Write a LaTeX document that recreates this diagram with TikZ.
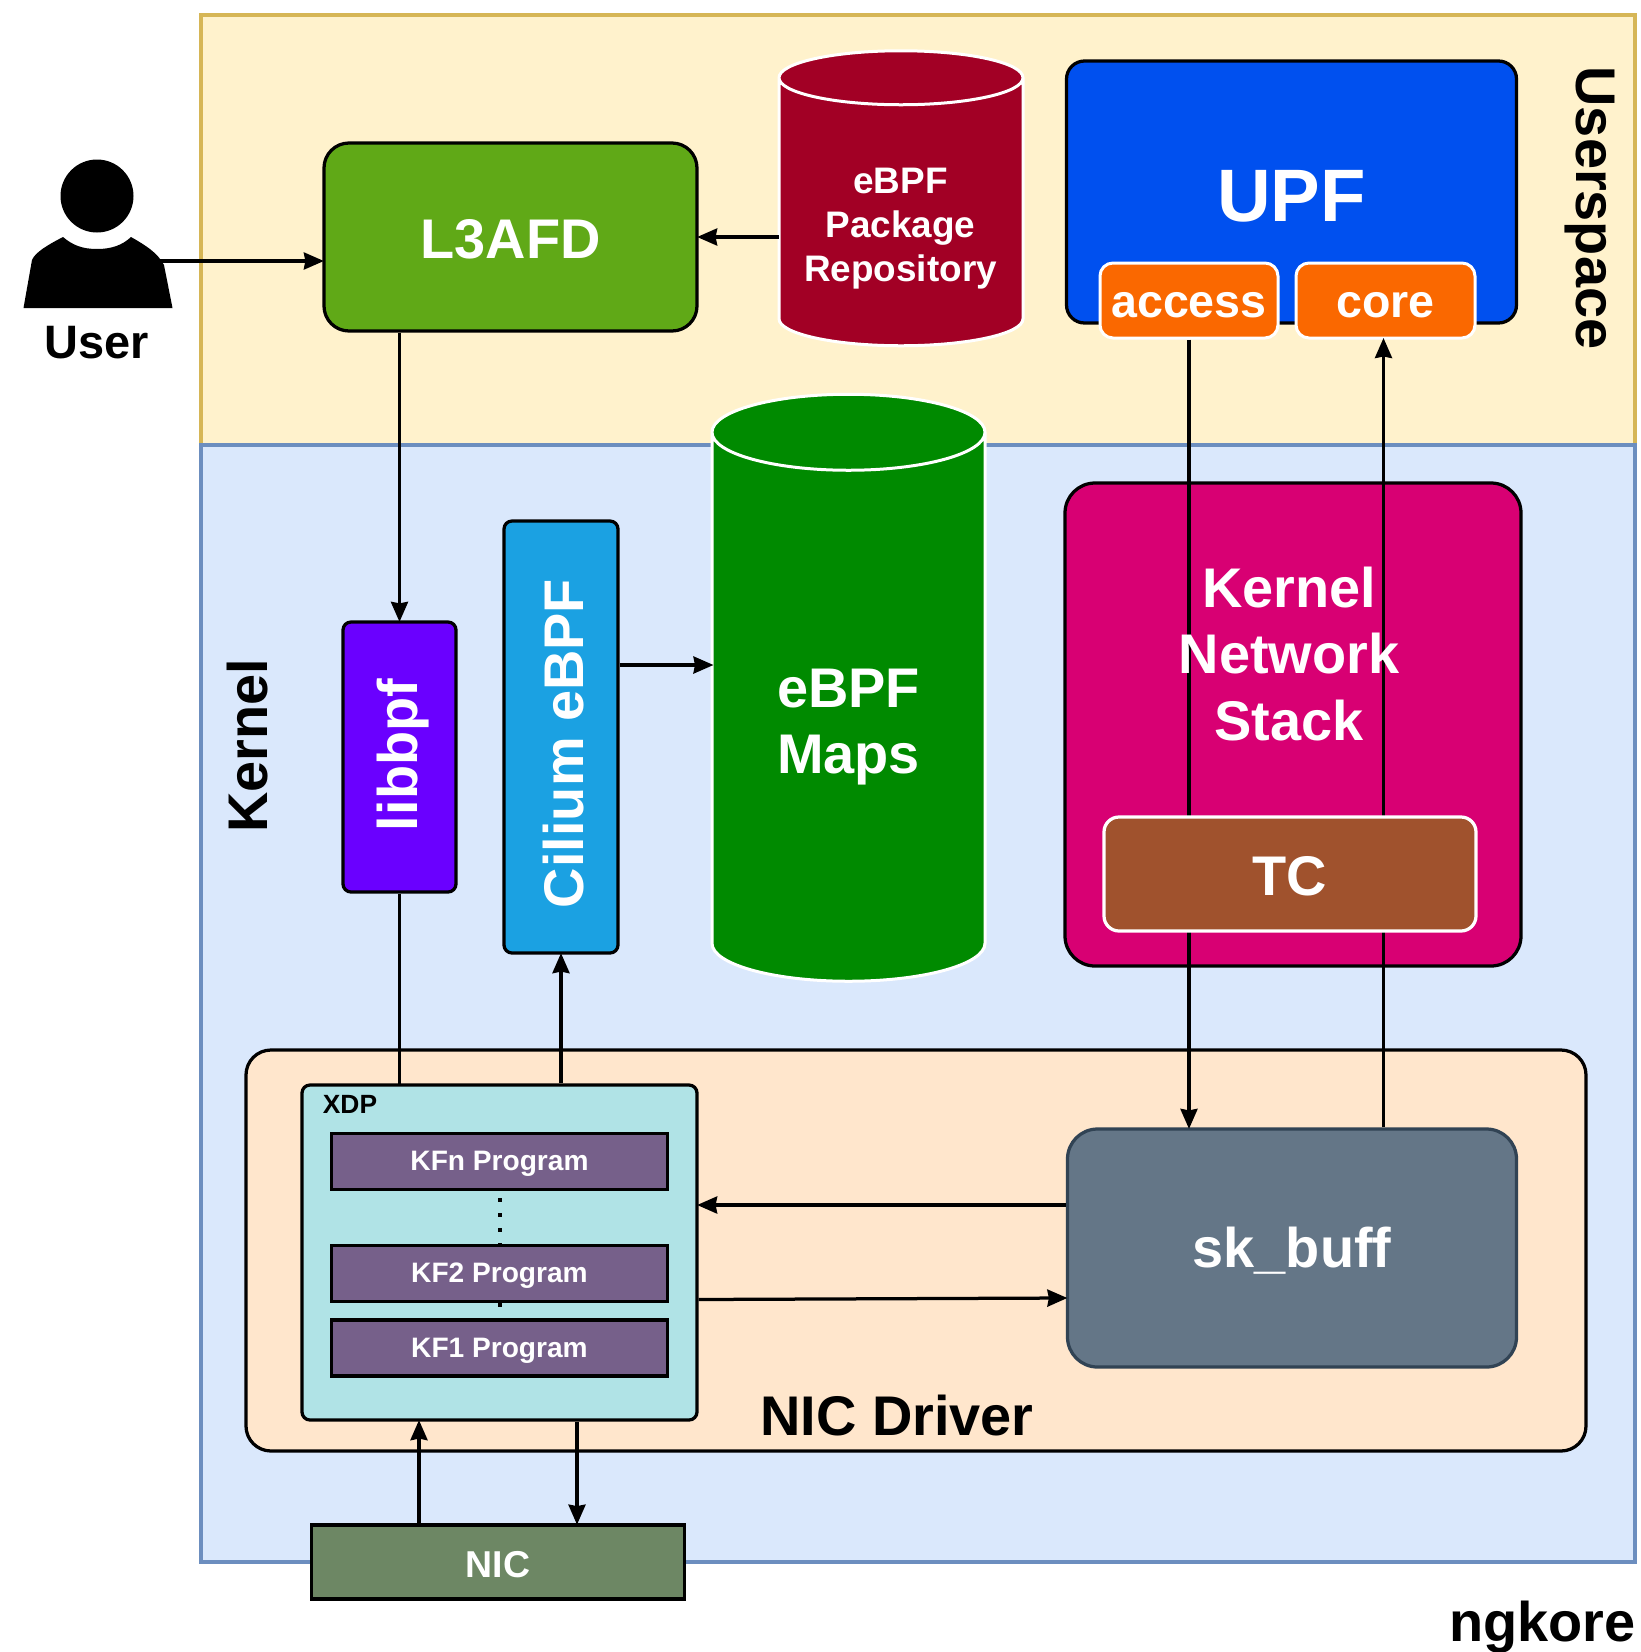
\documentclass[tikz,border=0pt]{standalone}
\usepackage{xcolor}
\usepackage{fontspec}
\setmainfont{Liberation Sans}
\usetikzlibrary{shapes.geometric, arrows.meta, calc, positioning}
\definecolor{userspacefill}{HTML}{FFF2CC}
\definecolor{userspaceline}{HTML}{D6B656}
\definecolor{kernelfill}{HTML}{DAE8FC}
\definecolor{kernelline}{HTML}{6C8EBF}
\definecolor{driverfill}{HTML}{FFE6CC}
\definecolor{l3afdgreen}{HTML}{60A917}
\definecolor{repored}{HTML}{A20025}
\definecolor{upfblue}{HTML}{0050EF}
\definecolor{portorange}{HTML}{FA6800}
\definecolor{mapsgreen}{HTML}{008A00}
\definecolor{stackpink}{HTML}{D80073}
\definecolor{tcbrown}{HTML}{A0522D}
\definecolor{ciliumblue}{HTML}{1BA1E2}
\definecolor{libbpfviolet}{HTML}{6A00FF}
\definecolor{xdpfill}{HTML}{B0E3E6}
\definecolor{kfpurple}{HTML}{76608A}
\definecolor{nicgreen}{HTML}{6D8764}
\definecolor{skbufffill}{HTML}{647687}
\definecolor{skbuffline}{HTML}{314354}

\begin{document}
\begin{tikzpicture}[>={Stealth[length=4mm,width=3.4mm,inset=0.3mm]}]
	\tikzstyle{region}=[draw, line width=0.8mm, minimum width=286.8mm]
	\tikzstyle{biglabel}=[font=\fontsize{31.8}{38}\selectfont\bfseries, align=center, inner sep=0]
	\tikzstyle{whitelabel}=[biglabel, text=white]
	\tikzstyle{darkbox}=[draw=black, line width=0.65mm, text=white, font=\fontsize{31.8}{38}\selectfont\bfseries, align=center, text height=25pt]
	\tikzstyle{lightbox}=[draw=white, line width=0.6mm, text=white, font=\fontsize{26.5}{31}\selectfont\bfseries, rounded corners=2.6mm, text height=20pt]
	\tikzstyle{tank}=[cylinder, shape border rotate=90, draw=white, line width=0.6mm, inner sep=0, outer sep=0]
	\tikzstyle{kfbox}=[draw=black, line width=0.7mm, fill=kfpurple, text=white, minimum width=67.2mm, minimum height=11.2mm, font=\fontsize{16}{19}\selectfont\bfseries, text height=13pt, text depth=2.5pt]
	\tikzstyle{link}=[line width=0.65mm, black, shorten >=-0.3mm]
	\tikzstyle{kfdots}=[line width=0.8mm, dash pattern=on 0.7mm off 2.3mm]

	\useasboundingbox (0,0) rectangle (328.2mm,-330.4mm);

	\node (userspace) at (183.6mm,-45.95mm) [region, draw=userspaceline, fill=userspacefill, minimum height=86.1mm] {};
	\node (kernel) at (183.6mm,-200.7mm) [region, draw=kernelline, fill=kernelfill, minimum height=223.4mm] {};
	\node (driver) at (183.2mm,-250.1mm) [darkbox, fill=driverfill, minimum width=268mm, minimum height=80.2mm, rounded corners=5mm] {};

	\node (userhead) at (19.4mm,-39.2mm) [circle, fill=black, minimum size=14.6mm, inner sep=0] {};
	\fill [black] (4.7mm,-61.6mm) -- (6.4mm,-52mm) .. controls (7mm,-50.5mm) and (9.5mm,-49mm) .. (12.6mm,-47.4mm)
		.. controls (14.5mm,-49mm) and (16.4mm,-49.8mm) .. (19.4mm,-49.8mm)
		.. controls (22.4mm,-49.8mm) and (24.5mm,-49mm) .. (26.2mm,-47.4mm)
		.. controls (29mm,-49mm) and (31.5mm,-50.5mm) .. (32.8mm,-53mm) -- (34.5mm,-61.6mm) -- cycle;
	\node (user) at (19.4mm,-68.6mm) [font=\fontsize{26.7}{32}\selectfont\bfseries, inner sep=0] {User};
	\coordinate (userarm) at (32mm,-52.2mm);

	\node (l3afd) at (102.1mm,-47.4mm) [darkbox, fill=l3afdgreen, minimum width=74.6mm, minimum height=37.6mm, rounded corners=5mm] {L3AFD};
	\node (repo) at (180.2mm,-42.5mm) [tank, fill=repored, minimum width=48.8mm, minimum height=59mm, shape aspect=0.54] {\hspace*{20mm}};
	\node (repotext) at (180.1mm,-45.65mm) [whitelabel, font=\fontsize{21}{25}\selectfont\bfseries] {eBPF\\Package\\Repository};
	\node (upf) at (258.3mm,-38.4mm) [darkbox, fill=upfblue, minimum width=90mm, minimum height=52.4mm, rounded corners=3.6mm, font=\fontsize{42.3}{50}\selectfont\bfseries, text height=34pt] {UPF};
	\node (access) at (237.8mm,-60.1mm) [lightbox, fill=portorange, minimum width=35.6mm, minimum height=15mm] {access};
	\node (core) at (277.1mm,-60.1mm) [lightbox, fill=portorange, minimum width=35.8mm, minimum height=15mm] {core};
	\node (userspacelabel) at (318mm,-41.6mm) [biglabel, rotate=-90] {Userspace};
	\node (kernellabel) at (49.5mm,-149.2mm) [biglabel, rotate=90] {Kernel};

	\node (maps) at (169.7mm,-141.5mm) [tank, fill=mapsgreen, minimum width=54.6mm, minimum height=117.4mm, shape aspect=0.76] {\hspace*{20mm}};
	\node (mapstext) at (169.7mm,-145.45mm) [whitelabel, font=\fontsize{31.8}{37.5}\selectfont\bfseries] {eBPF\\Maps};
	\node (kstack) at (258.6mm,-144.9mm) [darkbox, fill=stackpink, minimum width=91.2mm, minimum height=96.6mm, rounded corners=6mm] {};
	\node (skbuff) at (258.4mm,-249.6mm) [darkbox, draw=skbuffline, fill=skbufffill, minimum width=89.8mm, minimum height=47.6mm, rounded corners=6mm, text depth=3pt] {sk\_buff};

	\coordinate (corein) at ([xshift=-0.4mm]core.south);
	\draw [->, link] (access.south) -- (access.south |- skbuff.north);
	\draw [->, link] (corein |- skbuff.north) -- (corein);

	\node (kstacktext) at (257.8mm,-130.8mm) [whitelabel] {Kernel\\Network\\Stack};
	\node (tc) at (258mm,-174.8mm) [darkbox, draw=white, fill=tcbrown, minimum width=74.4mm, minimum height=22.8mm, rounded corners=3mm] {TC};

	\node (cilium) at (112.2mm,-147.4mm) [darkbox, fill=ciliumblue, minimum width=22.8mm, minimum height=86.4mm, rounded corners=1.6mm] {};
	\node (ciliumtext) at (112.8mm,-148.7mm) [whitelabel, rotate=90] {Cilium eBPF};
	\node (libbpf) at (79.9mm,-151.4mm) [darkbox, fill=libbpfviolet, minimum width=22.6mm, minimum height=54mm, rounded corners=1.6mm] {};
	\node (libbpftext) at (80.7mm,-151mm) [whitelabel, rotate=90] {libbpf};

	\node (xdp) at (99.9mm,-250.5mm) [darkbox, fill=xdpfill, minimum width=79mm, minimum height=67mm, rounded corners=1.6mm] {};
	\node (xdplabel) at (70mm,-220.8mm) [font=\fontsize{15}{18}\selectfont\bfseries, inner sep=0] {XDP};
	\node (kfn) at (99.9mm,-232.3mm) [kfbox] {KFn Program};
	\node (kf2) at (99.9mm,-254.7mm) [kfbox] {KF2 Program};
	\node (kf1) at (99.9mm,-269.6mm) [kfbox] {KF1 Program};
	\draw [kfdots, dash phase=1.6mm] (kfn.south) -- (kf2.north);
	\draw [kfdots] (kf2.south) -- (kf1.north);

	\node (driverlabel) at (179.4mm,-283.2mm) [biglabel] {NIC Driver};
	\node (nic) at (99.6mm,-312.4mm) [draw=black, line width=0.75mm, fill=nicgreen, text=white, minimum width=74.6mm, minimum height=14.8mm, font=\fontsize{21.3}{25}\selectfont\bfseries, text height=17.7pt] {NIC};
	\node (ngkore) at (308.5mm,-325.5mm) [biglabel] {ngkore};

	\coordinate (ciliumout) at ([yshift=14.4mm]cilium.east);
	\coordinate (skout) at ([yshift=8.6mm]skbuff.west);
	\coordinate (skin) at ([yshift=-10mm]skbuff.west);
	\coordinate (nicup) at ([xshift=-15.8mm]nic.north);
	\coordinate (nicdown) at ([xshift=15.8mm]nic.north);

	\draw [->, link] (userarm) -- (userarm -| l3afd.west);
	\draw [->, link] (l3afd.east -| repo.west) -- (l3afd.east);
	\draw [->, link] (l3afd.south -| libbpf.north) -- (libbpf.north);
	\draw [link] (libbpf.south) -- (libbpf.south |- xdp.north);
	\draw [->, link] (cilium.south |- xdp.north) -- (cilium.south);
	\draw [->, link] (ciliumout) -- (ciliumout -| maps.west);
	\draw [->, link] (skout) -- (skout -| xdp.east);
	\draw [->, link] ([yshift=-9.4mm]xdp.east) -- (skin);
	\draw [->, link] (nicup) -- (nicup |- xdp.south);
	\draw [->, link] (nicdown |- xdp.south) -- (nicdown);
\end{tikzpicture}
\end{document}
